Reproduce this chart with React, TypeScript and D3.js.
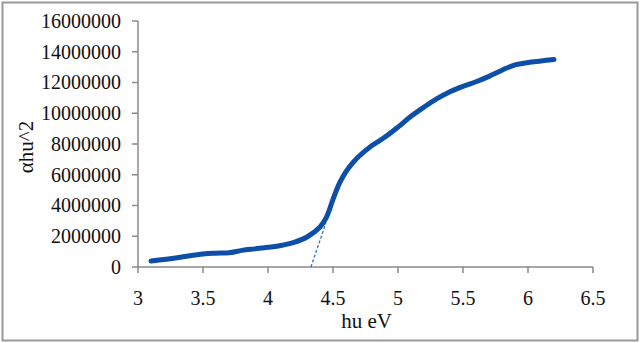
import * as d3 from "d3";

// photon energy (eV) and (αhν)^2
const hv = [3.1, 3.3, 3.5, 3.6, 3.7, 3.8, 3.9, 4.0, 4.1, 4.2, 4.3, 4.4, 4.45, 4.5, 4.55, 4.6, 4.65, 4.7, 4.8, 4.9, 5.0, 5.1, 5.2, 5.3, 5.4, 5.5, 5.6, 5.7, 5.8, 5.9, 6.0, 6.1, 6.2];
const ahv2 = [390000, 600000, 850000, 900000, 920000, 1080000, 1180000, 1280000, 1400000, 1600000, 1950000, 2600000, 3250000, 4400000, 5450000, 6200000, 6750000, 7200000, 7900000, 8450000, 9100000, 9800000, 10400000, 10950000, 11400000, 11750000, 12050000, 12400000, 12800000, 13150000, 13300000, 13400000, 13500000];

// extrapolated tangent to the band edge
const fitX = [4.33, 4.445];
const fitY = [0, 2850000];

const xTicks = [3, 3.5, 4, 4.5, 5, 5.5, 6, 6.5];
const yTicks = [0, 2000000, 4000000, 6000000, 8000000, 10000000, 12000000, 14000000, 16000000];

const W = 640;
const H = 343;
const m = { top: 21, right: 47, bottom: 76, left: 138 };
const FONT = "'Liberation Serif', 'DejaVu Serif', 'Times New Roman', Times, 'Nimbus Roman', FreeSerif, serif";

export default function App() {
  const x = d3.scaleLinear().domain([3, 6.5]).range([m.left, W - m.right]);
  const y = d3.scaleLinear().domain([0, 16000000]).range([H - m.bottom, m.top]);

  const pts = hv.map((v, i) => [v, ahv2[i]] as [number, number]);
  const line = d3
    .line<[number, number]>()
    .x((d) => x(d[0]))
    .y((d) => y(d[1]))
    .curve(d3.curveCatmullRom.alpha(0.5));

  const fit = fitX.map((v, i) => [v, fitY[i]] as [number, number]);
  const fitLine = d3
    .line<[number, number]>()
    .x((d) => x(d[0]))
    .y((d) => y(d[1]));

  const y0 = y(0);
  const axisColor = "#8a8a8a";

  return (
    <svg
      width={W}
      height={H}
      style={{ position: "absolute", left: 0, top: 0, background: "#fff" }}
    >
      <rect x={2.5} y={2.5} width={W - 5} height={H - 5} fill="#fff" stroke="#9a9a9a" strokeWidth={2} />

      <g style={{ fontFamily: FONT }} fill="#111">
        {/* y axis */}
        <line x1={x(3)} x2={x(3)} y1={y(16000000)} y2={y0} stroke={axisColor} strokeWidth={1.5} />
        {yTicks.map((t) => (
          <g key={t} transform={`translate(0,${y(t)})`}>
            <line x1={x(3) - 6} x2={x(3)} stroke={axisColor} strokeWidth={1.5} />
            <text x={x(3) - 17} dy="0.34em" textAnchor="end" fontSize={20}>
              {t}
            </text>
          </g>
        ))}

        {/* x axis */}
        <line x1={x(3)} x2={x(6.5)} y1={y0} y2={y0} stroke={axisColor} strokeWidth={1.5} />
        {xTicks.map((t) => (
          <g key={t} transform={`translate(${x(t)},${y0})`}>
            <line y1={0} y2={6} stroke={axisColor} strokeWidth={1.5} />
            <text y={38} textAnchor="middle" fontSize={20}>
              {t}
            </text>
          </g>
        ))}

        <text x={(x(3) + x(6.5)) / 2 + 1} y={H - 15} textAnchor="middle" fontSize={21}>
          hu eV
        </text>
        <text
          transform={`translate(33,${(y(16000000) + y0) / 2 + 3}) rotate(-90)`}
          textAnchor="middle"
          fontSize={21}
        >
          αhu^2
        </text>
      </g>

      <path d={fitLine(fit) ?? ""} fill="none" stroke="#2e6fd0" strokeWidth={1.3} strokeDasharray="3,2" />
      <path
        d={line(pts) ?? ""}
        fill="none"
        stroke="#0d4fa8"
        strokeWidth={5}
        strokeLinecap="round"
        strokeLinejoin="round"
      />
    </svg>
  );
}
